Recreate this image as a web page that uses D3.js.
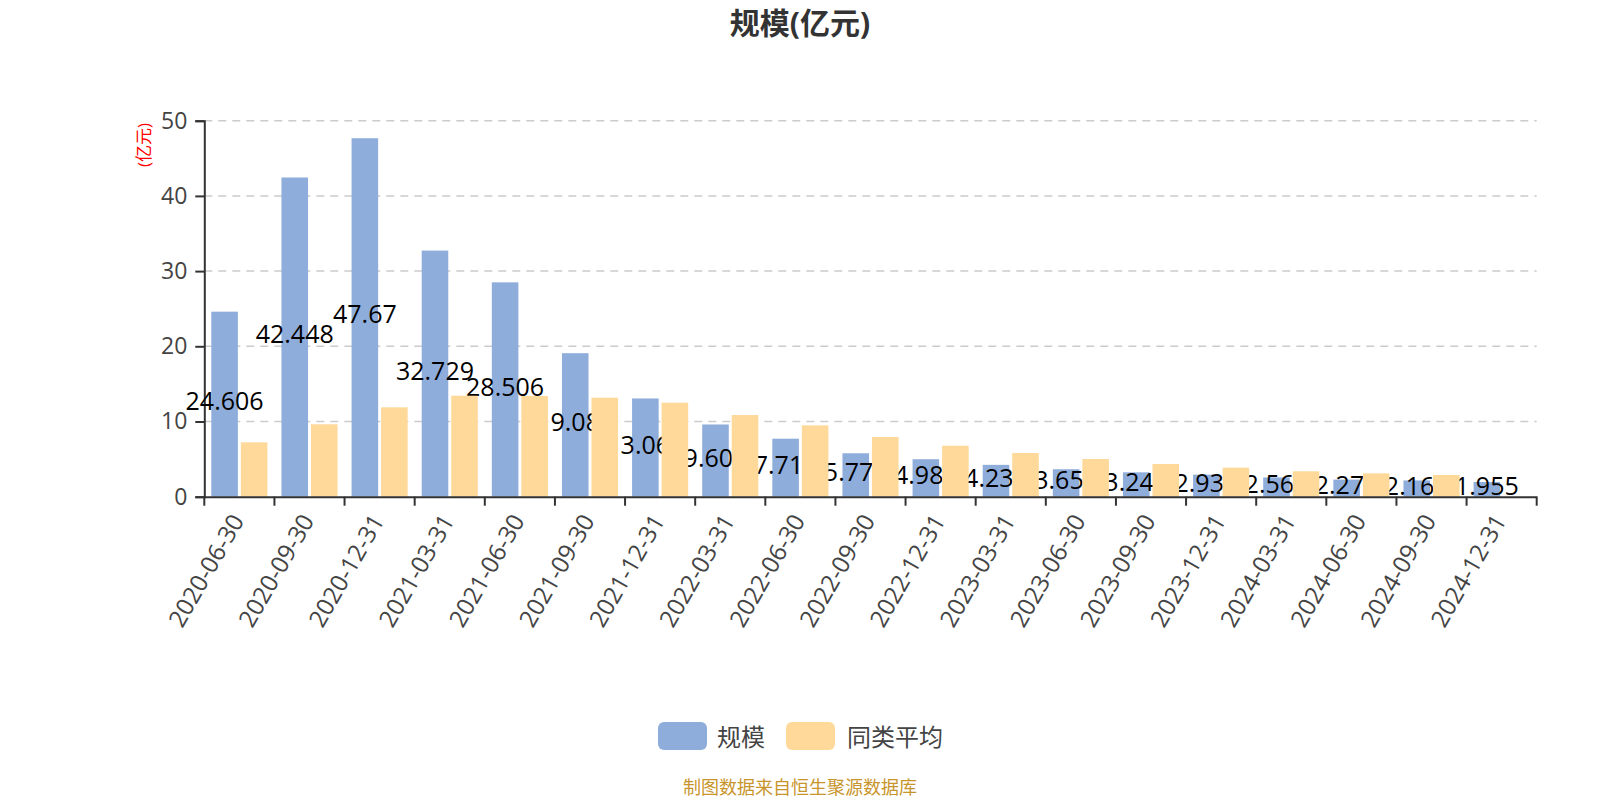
<!DOCTYPE html>
<html>
<head>
<meta charset="utf-8">
<script src="https://cdn.jsdelivr.net/npm/d3@7/dist/d3.min.js"></script>
<style>
  html, body { margin: 0; padding: 0; background: #fff; }
  svg { display: block; }
  text { font-family: "Open Sans", "Noto Sans CJK SC", sans-serif; }
</style>
</head>
<body>
<svg id="chart" width="1600" height="800"></svg>
<script>
const categories = ["2020-06-30","2020-09-30","2020-12-31","2021-03-31","2021-06-30","2021-09-30","2021-12-31","2022-03-31","2022-06-30","2022-09-30","2022-12-31","2023-03-31","2023-06-30","2023-09-30","2023-12-31","2024-03-31","2024-06-30","2024-09-30","2024-12-31"];
const scaleValues = [24.606, 42.448, 47.67, 32.729, 28.506, 19.083, 13.064, 9.603, 7.713, 5.774, 4.983, 4.235, 3.652, 3.241, 2.934, 2.563, 2.271, 2.162, 1.955];
const avgValues = [7.23, 9.63, 11.89, 13.43, 13.39, 13.17, 12.5, 10.86, 9.49, 7.94, 6.78, 5.81, 5.01, 4.35, 3.86, 3.38, 3.11, 2.89, null];
const yTicks = [0, 10, 20, 30, 40, 50];
const seriesNames = ["规模", "同类平均"];
const colors = ["#8FADDB", "#FED99A"];

const svg = d3.select("#chart");
const plotLeft = 204.3, plotRight = 1536.7, plotTop = 120.7, plotBottom = 496.7;

const x = d3.scaleBand().domain(categories).range([plotLeft, plotRight]).paddingInner(0).paddingOuter(0);
const bw = x.bandwidth();
const xs = d3.scaleBand().domain([0, 1]).range([bw * 0.1, bw * 0.9]).paddingInner(0.1);
const y = d3.scaleLinear().domain([0, 50]).range([plotBottom, plotTop]);

// title
svg.append("text").attr("x", 800).attr("y", 22).attr("text-anchor", "middle")
  .attr("dominant-baseline", "central").attr("font-size", 30).attr("font-weight", "bold")
  .attr("fill", "#333").text("规模(亿元)");

// grid
svg.append("g").selectAll("line").data(yTicks.filter(d => d > 0)).join("line")
  .attr("x1", plotLeft).attr("x2", plotRight)
  .attr("y1", d => y(d)).attr("y2", d => y(d))
  .attr("stroke", "#ccc").attr("stroke-width", 1.5).attr("stroke-dasharray", "8,6");

// y axis
const yAxis = d3.axisLeft(y).tickValues(yTicks).tickSize(9).tickPadding(8);
const gy = svg.append("g").attr("transform", `translate(${plotLeft},0)`).call(yAxis);
gy.select(".domain").attr("stroke", "#333").attr("stroke-width", 2);
gy.selectAll(".tick line").attr("stroke", "#333").attr("stroke-width", 2);
gy.selectAll(".tick text").attr("font-size", 23).attr("fill", "#444")
  .attr("font-family", "'Open Sans', sans-serif");

// y axis name
svg.append("text").attr("transform", "translate(143,145) rotate(-90)")
  .attr("text-anchor", "middle").attr("dominant-baseline", "central")
  .attr("font-size", 17).attr("fill", "#ff0000").text("(亿元)");

// blue bars
svg.append("g").selectAll("rect").data(scaleValues).join("rect")
  .attr("x", (d, i) => x(categories[i]) + xs(0))
  .attr("width", xs.bandwidth())
  .attr("y", d => y(d))
  .attr("height", d => y(0) - y(d))
  .attr("fill", colors[0]);

// blue labels (under the yellow bars)
svg.append("g").selectAll("text").data(scaleValues).join("text")
  .attr("x", (d, i) => x(categories[i]) + xs(0) + xs.bandwidth() / 2)
  .attr("y", d => (y(d) + y(0)) / 2 - 4)
  .attr("text-anchor", "middle").attr("dominant-baseline", "central")
  .attr("font-size", 25).attr("fill", "#000")
  .text(d => String(d));

// yellow bars
svg.append("g").selectAll("rect").data(avgValues.map((v, i) => ({v, i})).filter(d => d.v != null)).join("rect")
  .attr("x", d => x(categories[d.i]) + xs(1))
  .attr("width", xs.bandwidth())
  .attr("y", d => y(d.v))
  .attr("height", d => y(0) - y(d.v))
  .attr("fill", colors[1]);

// x axis
const xAxis = d3.axisBottom(x).tickSize(0).tickFormat("");
const gx = svg.append("g").attr("transform", `translate(0,${plotBottom})`).call(xAxis);
gx.select(".domain").attr("stroke", "#333").attr("stroke-width", 2);
gx.selectAll(".tick").remove();
const boundaries = categories.map(c => x(c)).concat([plotRight]);
gx.selectAll("line.bt").data(boundaries).join("line").attr("class", "bt")
  .attr("x1", d => d).attr("x2", d => d).attr("y1", 0).attr("y2", 9)
  .attr("stroke", "#333").attr("stroke-width", 2);

// x labels
svg.append("g").selectAll("text").data(categories).join("text")
  .attr("transform", d => `translate(${x(d) + 1},570) rotate(-60)`)
  .attr("text-anchor", "middle").attr("dominant-baseline", "central")
  .attr("font-size", 24).attr("fill", "#444").text(d => d);

// legend
const legend = svg.append("g");
const legendItems = [{x: 658, tx: 717}, {x: 786, tx: 847}];
legendItems.forEach((it, i) => {
  legend.append("rect").attr("x", it.x).attr("y", 722).attr("width", 49).attr("height", 28)
    .attr("rx", 6).attr("fill", colors[i]);
  legend.append("text").attr("x", it.tx).attr("y", 736).attr("dominant-baseline", "central")
    .attr("font-size", 24).attr("fill", "#444").attr("font-family", "'Noto Sans CJK SC', sans-serif")
    .text(seriesNames[i]);
});

// footer
svg.append("text").attr("x", 800).attr("y", 787).attr("text-anchor", "middle")
  .attr("dominant-baseline", "central").attr("font-size", 18).attr("fill", "#C8952D")
  .attr("font-family", "'Noto Sans CJK SC', sans-serif")
  .text("制图数据来自恒生聚源数据库");
</script>
</body>
</html>
